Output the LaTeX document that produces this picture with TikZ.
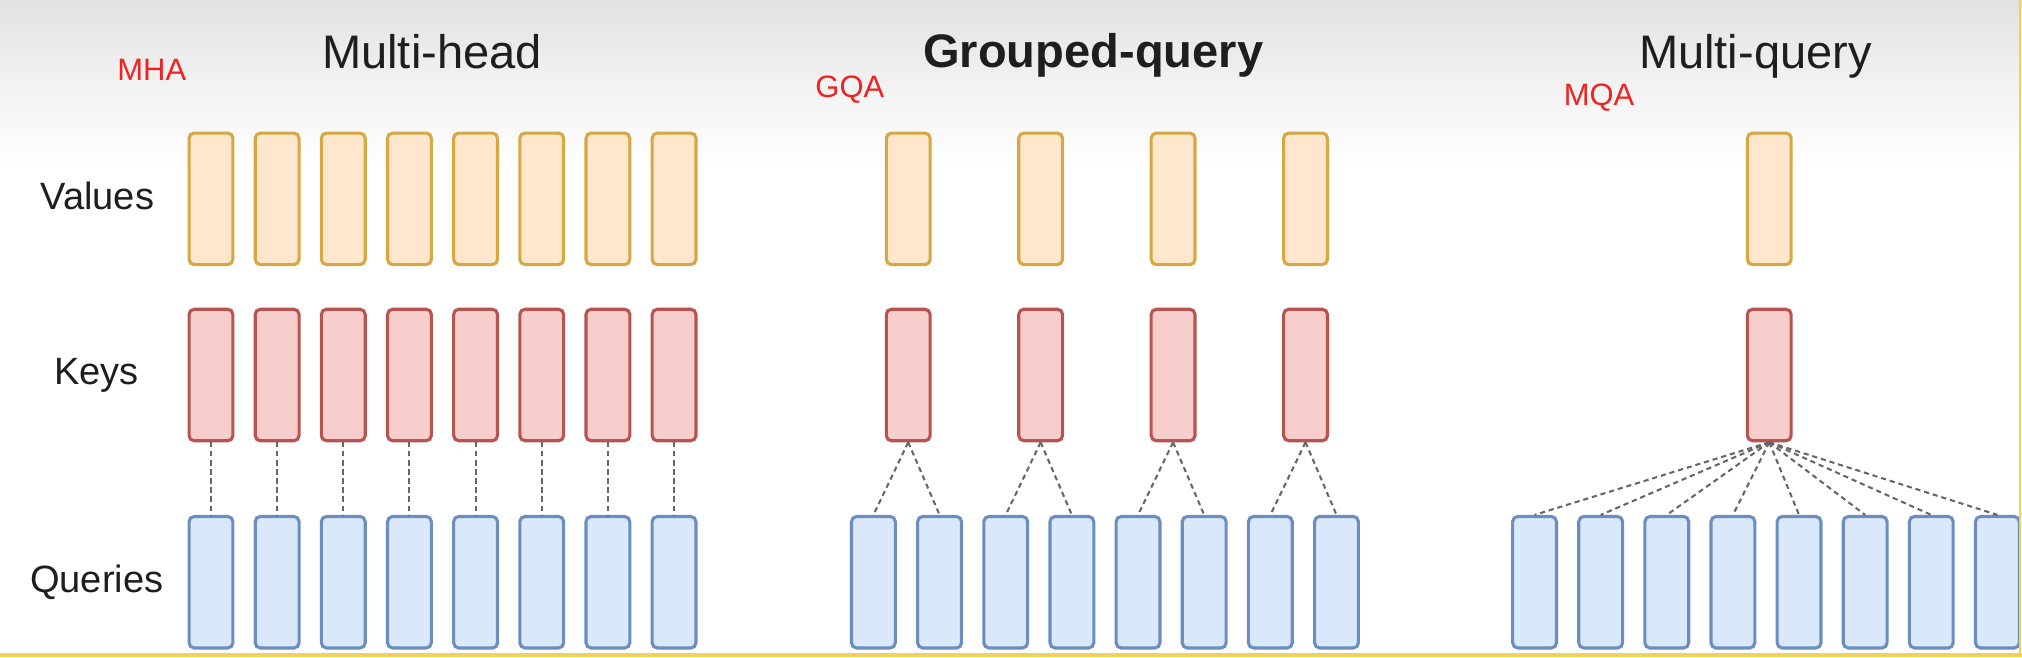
\documentclass[tikz,border=0pt]{standalone}
\usepackage{fontspec}
\setmainfont{Liberation Sans}
\definecolor{vfill}{HTML}{FFE6CC}
\definecolor{vdraw}{HTML}{D6A843}
\definecolor{kfill}{HTML}{F8CECC}
\definecolor{kdraw}{HTML}{B85450}
\definecolor{qfill}{HTML}{DAE8FC}
\definecolor{qdraw}{HTML}{6C8EBF}
\definecolor{bgtop}{HTML}{E2E2E2}
\definecolor{txt}{HTML}{1E1E1E}
\definecolor{tagred}{HTML}{EE2424}
\definecolor{dashgray}{HTML}{666666}
\definecolor{framey}{HTML}{F0D25A}
\tikzset{
  headbox/.style={rectangle, rounded corners=4pt, line width=2.4pt, inner sep=0pt,
    minimum width=34pt, minimum height=102pt},
  vbox/.style={headbox, draw=vdraw, fill=vfill},
  kbox/.style={headbox, draw=kdraw, fill=kfill},
  qbox/.style={headbox, draw=qdraw, fill=qfill},
  title/.style={text=txt, inner sep=0pt, anchor=base, font=\fontsize{36.5}{40}\selectfont},
  rowlabel/.style={text=txt, inner sep=0pt, anchor=base, font=\fontsize{29.5}{32}\selectfont},
  tag/.style={text=tagred, inner sep=0pt, anchor=base, font=\fontsize{24}{26}\selectfont},
  link/.style={draw=dashgray, line width=1.6pt, dash pattern=on 4pt off 3pt}
}
\begin{document}
\begin{tikzpicture}[x=1pt,y=-1pt]
\useasboundingbox (0,0) rectangle (1568,510.2);
\fill[white] (0,0) rectangle (1568,510.2);
\shade[top color=bgtop, bottom color=white, middle color=bgtop!45!white] (0,0) rectangle (1568,130);

% titles and tags
\node[title] (tmha) at (335,53) {Multi-head};
\node[title, font=\fontsize{36.5}{40}\selectfont\bfseries] (tgqa) at (847.8,52) {Grouped-query};
\node[title] (tmqa) at (1361.3,53) {Multi-query};
\node[tag] (lmha) at (117.7,62.8) {MHA};
\node[tag] (lgqa) at (659,75.5) {GQA};
\node[tag] (lmqa) at (1240,82.2) {MQA};

% row labels
\node[rowlabel] (rv) at (75.5,162.3) {Values};
\node[rowlabel] (rk) at (75,298.5) {Keys};
\node[rowlabel] (rq) at (75,459.8) {Queries};

% Multi-head
\foreach \i in {0,...,7} {
  \node[vbox] (mv\i) at ({163.6+51.3*\i},154.2) {};
  \node[kbox] (mk\i) at ({163.6+51.3*\i},290.8) {};
  \node[qbox] (mq\i) at ({163.6+51.3*\i},451.5) {};
  \draw[link] (mk\i.south) -- (mq\i.north);
}

% Grouped-query
\foreach \j in {0,...,3} {
  \node[vbox] (gv\j) at ({704.3+102.7*\j},154.2) {};
  \node[kbox] (gk\j) at ({704.3+102.7*\j},290.8) {};
}
\foreach \i in {0,...,7} {
  \node[qbox] (gq\i) at ({677.3+51.3*\i},451.5) {};
}
\foreach \i/\j in {0/0,1/0,2/1,3/1,4/2,5/2,6/3,7/3} {
  \draw[link] (gk\j.south) -- (gq\i.north);
}

% Multi-query
\node[vbox] (qv) at (1372,154.2) {};
\node[kbox] (qk) at (1372,290.8) {};
\foreach \i in {0,...,7} {
  \node[qbox] (qq\i) at ({1190+51.27*\i},451.5) {};
  \draw[link] (qk.south) -- (qq\i.north);
}

% frame lines
\draw[framey, line width=2.6pt] (0,508) -- (1568,508);
\draw[framey, line width=1.2pt] (1566.6,0) -- (1566.6,508);
\end{tikzpicture}
\end{document}
